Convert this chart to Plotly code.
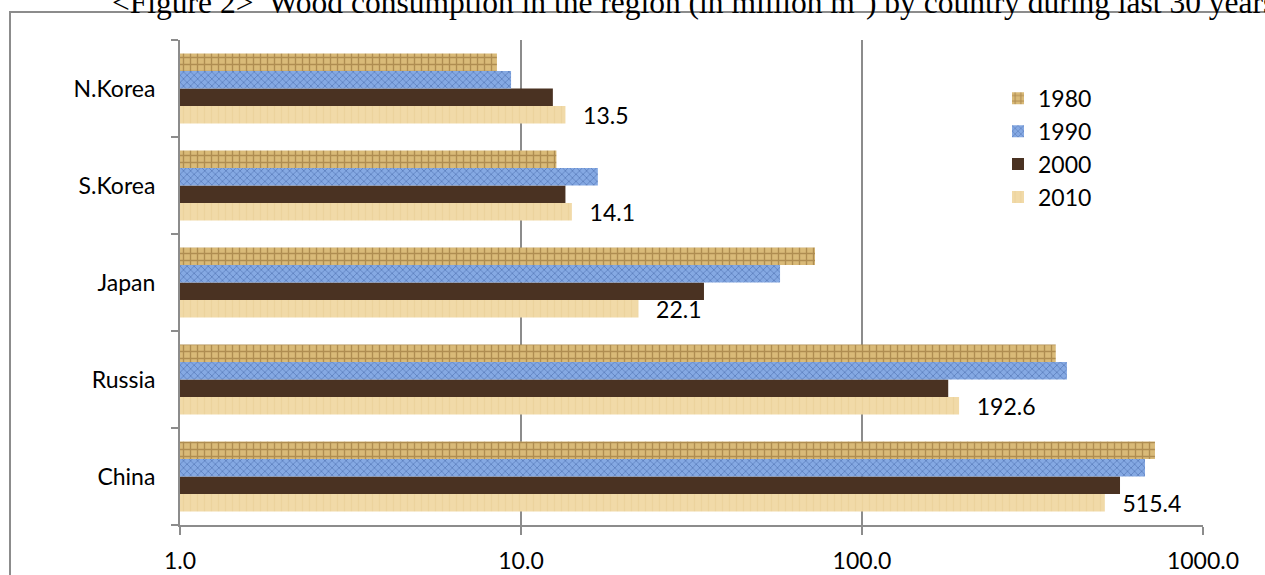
import plotly.graph_objects as go

countries = ["China", "Russia", "Japan", "S.Korea", "N.Korea"]
years = ["1980", "1990", "2000", "2010"]
v1980 = [723, 370, 72.8, 12.7, 8.5]
v1990 = [676, 399, 57.5, 16.8, 9.35]
v2000 = [571, 179, 34.4, 13.5, 12.4]
v2010 = [515.4, 192.6, 22.1, 14.1, 13.5]
tick_vals = [1, 10, 100, 1000]
tick_text = ["1.0", "10.0", "100.0", "1000.0"]
title_text = "&lt;Figure 2&gt;  Wood consumption in the region (in million m<sup>3</sup>) by country during last 30 years"

series = {"1980": v1980, "1990": v1990, "2000": v2000, "2010": v2010}
styles = {
    "1980": dict(color="#D2AE68", pattern=dict(shape="+", size=7, solidity=0.35, fgcolor="#86602A", bgcolor="#D9BA78")),
    "1990": dict(color="#7FA3DE", pattern=dict(shape="x", size=5, solidity=0.3, fgcolor="#36579A", bgcolor="#85A9E3")),
    "2000": dict(color="#4A3222"),
    "2010": dict(color="#EFD6A0", pattern=dict(shape="|", size=7, solidity=0.2, fgcolor="#E8CC92", bgcolor="#F1DAA8")),
}

font_family = "Lato, 'Open Sans', sans-serif"
fig = go.Figure()
for y in reversed(years):
    vals = series[y]
    st = styles[y]
    marker = dict(color=st["color"], line=dict(width=0))
    if "pattern" in st:
        marker["pattern"] = st["pattern"]
    kw = {}
    if y == "2010":
        kw = dict(text=["  \u2009" + f"{v:.1f}" for v in vals], textposition="outside",
                  textfont=dict(size=23, color="#000000", family=font_family),
                  cliponaxis=False, constraintext="none")
    fig.add_trace(go.Bar(y=countries, x=vals, name=y, orientation="h", marker=marker,
                         legendgroup=y, **kw))

fig.update_layout(
    width=1265, height=575,
    margin=dict(l=180, r=62, t=40, b=50),
    paper_bgcolor="white", plot_bgcolor="white",
    barmode="group", bargap=0.28, bargroupgap=0,
    font=dict(family=font_family, size=23, color="#000000"),
    showlegend=True,
    legend=dict(x=(998 - 180) / 1023, y=0.924, xanchor="left", yanchor="top", traceorder="reversed",
                font=dict(size=23), bgcolor="rgba(0,0,0,0)", tracegroupgap=12,
                itemwidth=30),
    xaxis=dict(type="log", range=[0, 3], tickvals=tick_vals, ticktext=tick_text,
               showgrid=True, gridcolor="#8C8C8C", gridwidth=1.5,
               showline=True, linecolor="#8C8C8C", linewidth=2,
               ticks="outside", ticklen=8, tickcolor="#8C8C8C", tickwidth=1.5,
               ticklabelstandoff=6, zeroline=False, fixedrange=True, automargin=False),
    yaxis=dict(type="category", showline=True, linecolor="#8C8C8C", linewidth=2,
               ticks="outside", tickson="boundaries", ticklen=7, tickcolor="#8C8C8C",
               tickwidth=1.5, showgrid=False, ticklabelstandoff=18, automargin=False),
    shapes=[dict(type="rect", xref="paper", yref="paper",
                 x0=(10 - 180) / 1023, x1=1.2, y0=-0.3, y1=(525 - 12) / 485,
                 line=dict(color="#8C8C8C", width=2), fillcolor="rgba(0,0,0,0)", layer="below")],
    annotations=[dict(text=title_text, xref="paper", yref="paper",
                      x=(110 - 180) / 1023, y=(525 - 22) / 485, xanchor="left", yanchor="bottom",
                      showarrow=False,
                      font=dict(family="'Liberation Serif', 'Times New Roman', serif", size=31.5, color="#000000"))],
)

fig.write_html("out.html", config={"displayModeBar": False},
               post_script="document.body.style.margin='0';document.body.style.overflow='hidden';")
